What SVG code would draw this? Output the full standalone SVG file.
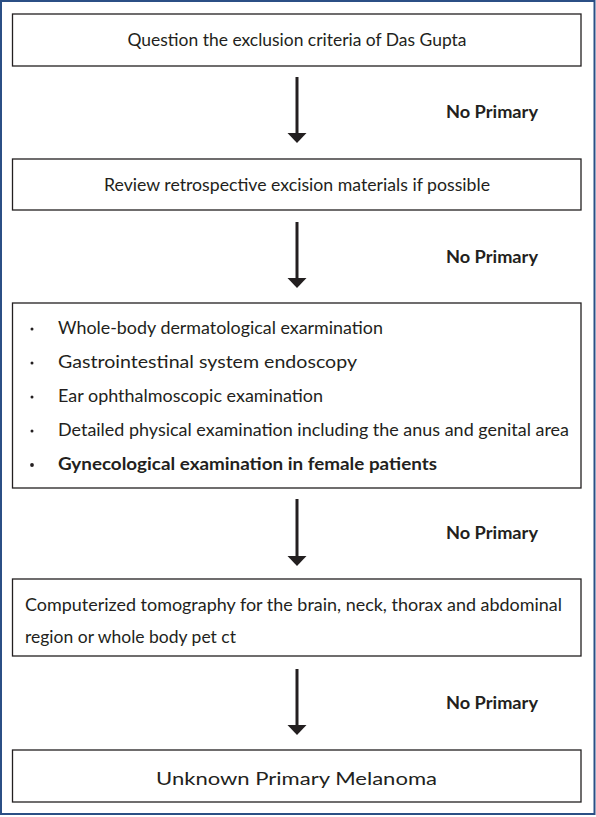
<svg xmlns="http://www.w3.org/2000/svg" width="596" height="817" viewBox="0 0 596 817">
<style>
.box{fill:#fff;stroke:#231f20;stroke-width:1.3}
.t{font-family:Lato,"Open Sans","Noto Sans","Liberation Sans",sans-serif;font-size:16.5px;fill:#231f20}
.b{font-weight:bold}
.lbl{font-family:Lato,"Open Sans","Noto Sans","Liberation Sans",sans-serif;font-size:16.5px;font-weight:bold;fill:#231f20}
.arr{stroke:#231f20;stroke-width:3;fill:none}
.head{fill:#231f20}
</style>
<rect x="1" y="1" width="593.5" height="813" fill="#fff" stroke="#2b4f85" stroke-width="2"/>
<g id="node1">
<rect class="box" x="12.5" y="14" width="568.5" height="52"/>
<text class="t" x="297" y="46" text-anchor="middle" textLength="339" lengthAdjust="spacingAndGlyphs">Question the exclusion criteria of Das Gupta</text>
</g>
<g id="node2">
<rect class="box" x="12.5" y="159" width="568.5" height="51"/>
<text class="t" x="297" y="191" text-anchor="middle" textLength="386" lengthAdjust="spacingAndGlyphs">Review retrospective excision materials if possible</text>
</g>
<g id="node3">
<rect class="box" x="12.5" y="303" width="568.5" height="185"/>
<g class="t">
<circle cx="32" cy="329" r="1.5" fill="#231f20"/>
<text x="58" y="334" textLength="325" lengthAdjust="spacingAndGlyphs">Whole-body dermatological exarmination</text>
<circle cx="32" cy="363" r="1.5" fill="#231f20"/>
<text x="58" y="368" textLength="299" lengthAdjust="spacingAndGlyphs">Gastrointestinal system endoscopy</text>
<circle cx="32" cy="397" r="1.5" fill="#231f20"/>
<text x="58" y="402" textLength="265" lengthAdjust="spacingAndGlyphs">Ear ophthalmoscopic examination</text>
<circle cx="32" cy="431" r="1.5" fill="#231f20"/>
<text x="58" y="436" textLength="511" lengthAdjust="spacingAndGlyphs">Detailed physical examination including the anus and genital area</text>
<circle cx="32" cy="465" r="1.9" fill="#231f20"/>
<text class="b" x="58" y="470" textLength="379" lengthAdjust="spacingAndGlyphs">Gynecological examination in female patients</text>
</g>
</g>
<g id="node4">
<rect class="box" x="12.5" y="579" width="568.5" height="77"/>
<text class="t" x="25" y="611" textLength="537" lengthAdjust="spacingAndGlyphs">Computerized tomography for the brain, neck, thorax and abdominal</text>
<text class="t" x="25" y="643" textLength="211" lengthAdjust="spacingAndGlyphs">region or whole body pet ct</text>
</g>
<g id="node5">
<rect class="box" x="12.5" y="750" width="568.5" height="52"/>
<text class="t" x="296.5" y="785" text-anchor="middle" font-size="24" textLength="281" lengthAdjust="spacingAndGlyphs">Unknown Primary Melanoma</text>
</g>
<g id="connectors">
<line class="arr" x1="297" y1="77" x2="297" y2="134"/>
<polygon class="head" points="287.5,133 306.5,133 297,143"/>
<line class="arr" x1="297" y1="222" x2="297" y2="279"/>
<polygon class="head" points="287.5,278 306.5,278 297,288"/>
<line class="arr" x1="297" y1="499" x2="297" y2="557"/>
<polygon class="head" points="287.5,556 306.5,556 297,566"/>
<line class="arr" x1="297" y1="669" x2="297" y2="726"/>
<polygon class="head" points="287.5,725 306.5,725 297,735"/>
<text class="lbl" x="446" y="118" textLength="92" lengthAdjust="spacingAndGlyphs">No Primary</text>
<text class="lbl" x="446" y="263" textLength="92" lengthAdjust="spacingAndGlyphs">No Primary</text>
<text class="lbl" x="446" y="539" textLength="92" lengthAdjust="spacingAndGlyphs">No Primary</text>
<text class="lbl" x="446" y="709" textLength="92" lengthAdjust="spacingAndGlyphs">No Primary</text>
</g>
</svg>
